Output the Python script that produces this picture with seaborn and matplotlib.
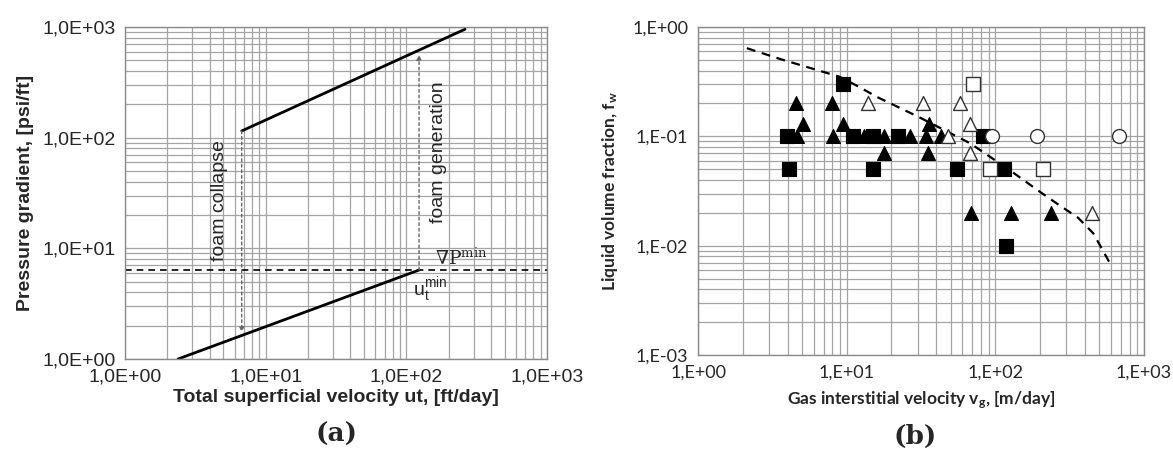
import math
import seaborn as sns
import matplotlib.pyplot as plt
from matplotlib.ticker import LogLocator, FuncFormatter, NullFormatter

# (a) pressure gradient vs total superficial velocity
upper_u = [6.75, 261]
upper_dp = [115, 955]
lower_u = [2.38, 123]
lower_dp = [1.0, 6.37]
dp_min = 6.37
u_min = 123
collapse_u = 6.75
collapse_dp = [115, 1.75]
generation_dp = [6.37, 560]

# (b) liquid volume fraction vs gas interstitial velocity
sq_fill_v = [3.95, 4.06, 9.5, 11, 15, 15, 22.2, 55.4, 83, 115, 118]
sq_fill_fw = [0.1, 0.05, 0.3, 0.1, 0.1, 0.05, 0.1, 0.05, 0.1, 0.05, 0.01]
tri_fill_v = [4.56, 4.65, 5.1, 8.0, 8.1, 9.5, 13.1, 17.9, 17.9, 26.6, 34, 35, 35.8, 42.9, 68.5, 127, 237]
tri_fill_fw = [0.2, 0.1, 0.13, 0.2, 0.1, 0.13, 0.1, 0.1, 0.07, 0.1, 0.1, 0.07, 0.13, 0.1, 0.02, 0.02, 0.02]
tri_open_v = [13.8, 32.4, 48.2, 57.8, 67.5, 67.5, 444]
tri_open_fw = [0.2, 0.2, 0.1, 0.2, 0.13, 0.07, 0.02]
sq_open_v = [70.3, 92, 208]
sq_open_fw = [0.3, 0.05, 0.05]
circ_open_v = [94.5, 190, 681]
circ_open_fw = [0.1, 0.1, 0.1]
curve_v = [2.13, 3.56, 9.0, 12.3, 15.9, 30.3, 67.5, 125, 200, 258, 360, 455, 590]
curve_fw = [0.64, 0.51, 0.35, 0.28, 0.23, 0.151, 0.0865, 0.049, 0.031, 0.0244, 0.018, 0.013, 0.0069]

sns.set_style("white")
plt.rcParams['font.family'] = ['Liberation Sans', 'DejaVu Sans']

GRID = '#a4a4a4'

fig = plt.figure(figsize=(11.73, 4.5), dpi=100)
ax1 = fig.add_axes([0.1066, 0.2022, 0.3598, 0.7378])
ax2 = fig.add_axes([0.5951, 0.2111, 0.3802, 0.7289])


def setup_log(ax, fmt, family, size):
    ax.set_xscale('log')
    ax.set_yscale('log')
    for axis in (ax.xaxis, ax.yaxis):
        axis.set_major_locator(LogLocator(base=10))
        axis.set_minor_locator(LogLocator(base=10, subs=range(2, 10)))
        axis.set_major_formatter(FuncFormatter(fmt))
        axis.set_minor_formatter(NullFormatter())
    ax.grid(True, which='both', color=GRID, lw=0.9)
    ax.set_axisbelow(True)
    ax.tick_params(which='both', length=0, labelsize=size, pad=7)
    for lab in ax.get_xticklabels() + ax.get_yticklabels():
        lab.set_family(family)
    for s in ax.spines.values():
        s.set_color('#8a8a8a')
        s.set_linewidth(1.0)


def fmt_a(v, pos):
    return "1,0E{:+03d}".format(int(round(math.log10(v))))


def fmt_b(v, pos):
    return "1,E{:+03d}".format(int(round(math.log10(v))))


# ---- panel (a)
sns.lineplot(x=upper_u, y=upper_dp, ax=ax1, color='black', lw=2)
sns.lineplot(x=lower_u, y=lower_dp, ax=ax1, color='black', lw=2)
ax1.axhline(dp_min, color='black', lw=1.2, ls=(0, (4, 3)))
arrow = dict(arrowstyle='-|>', color='#666666', lw=1.0, ls=(0, (2, 2)),
             shrinkA=0, shrinkB=0, mutation_scale=7)
ax1.annotate('', xy=(collapse_u, collapse_dp[1]), xytext=(collapse_u, collapse_dp[0]), arrowprops=arrow)
ax1.annotate('', xy=(u_min, generation_dp[1]), xytext=(u_min, generation_dp[0]), arrowprops=arrow)
ax1.text(4.73, 27.3, 'foam collapse', rotation=90, ha='center', va='center', fontsize=14)
ax1.text(168, 74, 'foam generation', rotation=90, ha='center', va='center', fontsize=14)
ax1.text(160, 8.2, r'$\mathregular{\nabla P^{min}}$', family='DejaVu Serif', fontsize=13.5,
         ha='left', va='center')
ax1.text(111, 4.2, r'$\mathregular{u_t^{min}}$', fontsize=14, ha='left', va='center')
ax1.set_xlim(1, 1e3)
ax1.set_ylim(1, 1e3)
setup_log(ax1, fmt_a, 'Liberation Sans', 14)
ax1.set_xlabel('Total superficial velocity ut, [ft/day]', fontsize=14, fontweight='bold', labelpad=2)
ax1.set_ylabel('Pressure gradient, [psi/ft]', fontsize=14, fontweight='bold', labelpad=6)

# ---- panel (b)
sns.lineplot(x=curve_v, y=curve_fw, ax=ax2, color='black', lw=1.6, ls=(0, (4, 3)))
sns.scatterplot(x=sq_fill_v, y=sq_fill_fw, ax=ax2, marker='s', s=105, color='black',
                edgecolor='black', zorder=3)
sns.scatterplot(x=tri_fill_v, y=tri_fill_fw, ax=ax2, marker='^', s=100, color='black',
                edgecolor='black', zorder=3)
sns.scatterplot(x=tri_open_v, y=tri_open_fw, ax=ax2, marker='^', s=100, color='white',
                edgecolor='#333333', linewidth=1.0, zorder=3)
sns.scatterplot(x=sq_open_v, y=sq_open_fw, ax=ax2, marker='s', s=105, color='white',
                edgecolor='#333333', linewidth=1.0, zorder=3)
sns.scatterplot(x=circ_open_v, y=circ_open_fw, ax=ax2, marker='o', s=100, color='white',
                edgecolor='#333333', linewidth=1.0, zorder=3)
ax2.set_xlim(1, 1e3)
ax2.set_ylim(1e-3, 1)
setup_log(ax2, fmt_b, 'Lato', 13)
ax2.set_xlabel(r'Gas interstitial velocity v$\mathregular{_g}$, [m/day]', family='Lato',
               fontsize=12.5, fontweight='bold', labelpad=6)
ax2.set_ylabel(r'Liquid volume fraction, f$\mathregular{_w}$', family='Lato',
               fontsize=12.5, fontweight='bold', labelpad=9)

fig.text(337 / 1173, 1 - 434 / 450, '(a)', family='DejaVu Serif', fontweight='bold',
         fontsize=19, ha='center', va='center')
fig.text(915 / 1173, 1 - 436 / 450, '(b)', family='DejaVu Serif', fontweight='bold',
         fontsize=19, ha='center', va='center')

plt.savefig('out.png', dpi=100)
